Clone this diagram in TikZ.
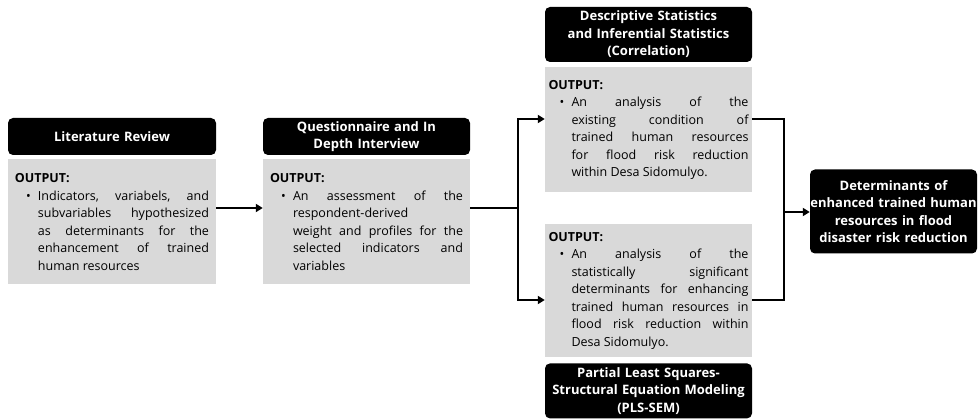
\documentclass[tikz,border=0pt]{standalone}
\usepackage{fontspec}
\setmainfont{Open Sans}
\usetikzlibrary{arrows.meta,positioning}

\definecolor{boxgray}{HTML}{D9D9D9}

% bullet line with a hanging indent, used inside the output boxes
\newcommand{\outitem}[1]{\par\noindent
  \makebox[23pt][l]{\hskip 11pt\textbullet}%
  \parbox[t]{\dimexpr\hsize-23pt\relax}{\noindent #1}}

\begin{document}
\begin{tikzpicture}[%
    x=1pt, y=-1pt,                          % one unit per pixel, top-down
    >={Triangle[length=7pt,width=8pt]},     % Small solid arrow heads
    every node/.style={inner sep=0pt},
    ]
% -------------------------------------------------
% Box styles: black step titles and grey output boxes
\tikzset{
  head/.style={fill=black, text=white, rounded corners=5pt, align=center,
    font={\bfseries\fontsize{13}{17.5}\selectfont}},
  outbox/.style={fill=boxgray, align=justify, inner xsep=7pt,
    font={\fontsize{12.5}{17.5}\selectfont}},
  % Connector line style
  link/.style={draw, line width=1.8pt},
}
\useasboundingbox (0,0) rectangle (978,419);
% -------------------------------------------------
% Start by placing the nodes
\node [head, minimum width=208pt, minimum height=37pt, text width=200pt]
  (lit) at (112,136.5) {Literature Review};
\node [outbox, text width=194pt, minimum height=125pt,
  below=4pt of lit] (litOut)
  {\textbf{OUTPUT:}
   \outitem{Indicators, variabels, and\linebreak
   subvariables hypothesized\linebreak
   as determinants for the\linebreak
   enhancement of trained\linebreak
   human resources}};

\node [head, minimum width=207pt, minimum height=37pt, text width=203pt]
  (quest) at (366.5,136.5) {Questionnaire and In\\Depth Interview};
\node [outbox, text width=193pt, minimum height=125pt,
  below=4pt of quest] (questOut)
  {\textbf{OUTPUT:}
   \outitem{An assessment of the\linebreak
   respondent-derived\linebreak
   weight and profiles for the\linebreak
   selected indicators and\linebreak
   variables}};

\node [head, minimum width=207pt, minimum height=55pt, text width=203pt]
  (desc) at (648.5,34.5)
  {Descriptive Statistics\\and Inferential Statistics\\(Correlation)};
\node [outbox, inner xsep=3.5pt, text width=200pt, minimum height=125pt,
  below=5pt of desc] (descOut)
  {\textbf{OUTPUT:}
   \outitem{An analysis of the\linebreak
   existing condition of\linebreak
   trained human resources\linebreak
   for flood risk reduction\linebreak
   within Desa Sidomulyo.}};

\node [outbox, inner xsep=3.5pt, text width=200pt, minimum height=133pt]
  (plsOut) at (648.5,290.5)
  {\textbf{OUTPUT:}
   \outitem{An analysis of the\linebreak
   statistically significant\linebreak
   determinants for enhancing\linebreak
   trained human resources in\linebreak
   flood risk reduction within\linebreak
   Desa Sidomulyo.}};
\node [head, minimum width=207pt, minimum height=55pt, text width=203pt,
  below=6pt of plsOut] (pls)
  {Partial Least Squares-\\Structural Equation Modeling\\(PLS-SEM)};

\node [head, minimum width=167pt, minimum height=84pt, text width=167pt]
  (result) at (893.5,211.5)
  {Determinants of\\enhanced trained human\\resources in flood\\disaster risk reduction};

% -------------------------------------------------
% Connectors
\coordinate (row)   at (0,208);
\coordinate (upper) at (0,119);
\coordinate (lower) at (0,300);
\coordinate (split) at (518,208);
\coordinate (merge) at (784,212);

\draw [link, ->] (litOut.east |- row) -- (questOut.west |- row);
\draw [link] (questOut.east |- row) -- (split);
\draw [link, <->] (descOut.west |- upper) -| (split |- lower)
  -- (plsOut.west |- lower);
\draw [link] (descOut.east |- upper) -| (merge |- lower)
  -- (plsOut.east |- lower);
\draw [link, ->] (merge) -- (result.west |- merge);

% -------------------------------------------------
\end{tikzpicture}
\end{document}
